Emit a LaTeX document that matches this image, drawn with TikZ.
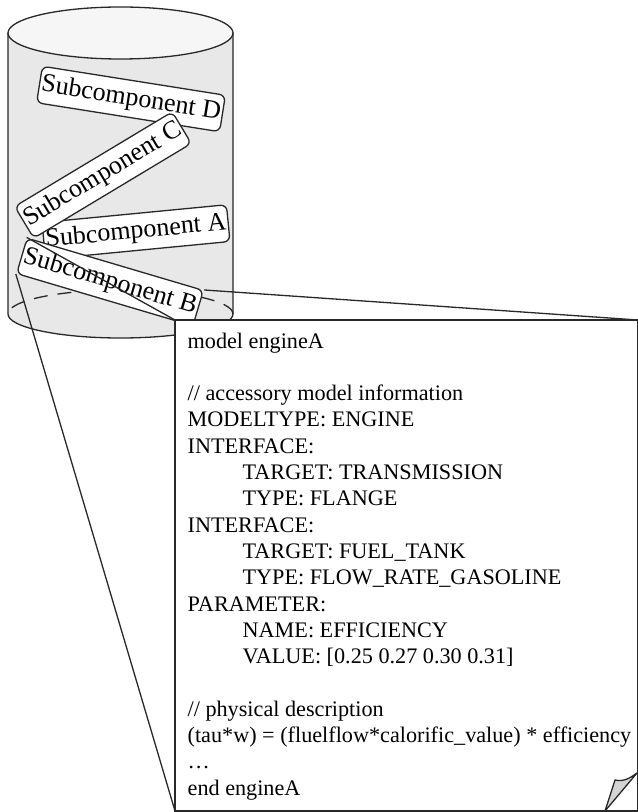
\documentclass[tikz,border=0pt]{standalone}
\usepackage{fontspec}
\setmainfont{Liberation Serif}
\usepackage{xcolor}
\definecolor{cylBody}{RGB}{232, 232, 232}
\definecolor{cylTop}{RGB}{246, 246, 246}
\definecolor{foldGray}{RGB}{212, 212, 212}
\definecolor{lineDark}{RGB}{40, 40, 40}
\newcommand{\codetab}{\hspace*{27.5pt}}

\begin{document}
\begin{tikzpicture}[x=0.5pt, y=-0.5pt, line width=0.65pt]
            \tikzstyle{subbox} = [draw=lineDark, fill=white, rounded corners=3pt, minimum width=91pt, minimum height=15.5pt, inner xsep=1pt, font=\fontsize{13}{15}\selectfont]
            \tikzstyle{codebox} = [draw=lineDark, fill=white, anchor=north west, outer sep=0pt, minimum width=231.5pt, minimum height=245.5pt]
            \tikzstyle{arrow} = [lineDark]
            \useasboundingbox (0,0) rectangle (637,812);

            % Cylinder
            \fill[cylBody] (8,33) -- (8,314) arc[start angle=180, end angle=360, x radius=56.25pt, y radius=12pt] -- (233,33) -- cycle;
            \draw[lineDark] (8,33) -- (8,314) arc[start angle=180, end angle=360, x radius=56.25pt, y radius=12pt] -- (233,33);
            \draw[lineDark, dash pattern=on 7pt off 5pt] (233,314) arc[start angle=0, end angle=180, x radius=56.25pt, y radius=12pt];
            \draw[lineDark, fill=cylTop] (120.5,33) ellipse [x radius=56.25pt, y radius=13pt];

            % Subcomponents
            \node[subbox, rotate=-9] (subD) at (131,99) {Subcomponent D};
            \node[subbox, rotate=5.5] (subA) at (136,232) {Subcomponent A};
            \node[subbox, rotate=31] (subC) at (103,175) {Subcomponent C};
            \node[subbox, rotate=-16.5] (subB) at (110,282) {Subcomponent B};

            % Zoom onto the model
            \node[codebox] (code) at (175,320) {};
            \draw[arrow] (subB.north west) -- (code.north west);
            \draw[arrow] (subB.north east) -- (code.north east);
            \draw[arrow] (subB.south west) -- (code.south west);
            \node[codebox] (codeframe) at (175,320) {};
            \node[anchor=north west, align=left, inner sep=0pt, font=\fontsize{11.1}{13.15}\selectfont] (codetext) at (187,332) {model engineA\\[13.15pt]
// accessory model information\\
MODELTYPE: ENGINE\\
INTERFACE:\\
\codetab TARGET: TRANSMISSION\\
\codetab TYPE: FLANGE\\
INTERFACE:\\
\codetab TARGET: FUEL\_TANK\\
\codetab TYPE: FLOW\_RATE\_GASOLINE\\
PARAMETER:\\
\codetab NAME: EFFICIENCY\\
\codetab VALUE: [0.25 0.27 0.30 0.31]\\[13.15pt]
// physical description\\
(tau*w) = (fluelflow*calorific\_value) * efficiency\\
…\\
end engineA};
            \draw[lineDark, fill=foldGray] (605,811) -- (615,780) .. controls (624,782) and (630,778) .. (637,773) -- cycle;
        \end{tikzpicture}
\end{document}
